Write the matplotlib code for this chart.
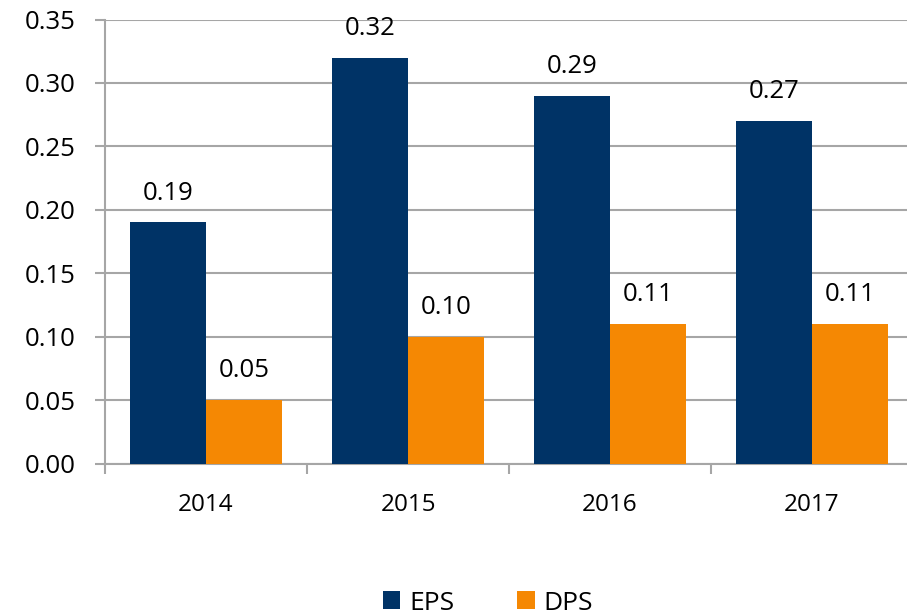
import matplotlib
matplotlib.use("Agg")
import matplotlib.pyplot as plt
import numpy as np

YEARS = ["2014", "2015", "2016", "2017"]
EPS = [0.19, 0.32, 0.29, 0.27]
DPS = [0.05, 0.10, 0.11, 0.11]
Y_TICKS = [0.00, 0.05, 0.10, 0.15, 0.20, 0.25, 0.30, 0.35]

NAVY = "#003366"
ORANGE = "#F58803"
GRID = "#A6A6A6"

plt.rcParams["font.family"] = ["Open Sans", "DejaVu Sans"]

fig = plt.figure(figsize=(9.07, 6.15), dpi=100)
ax = fig.add_axes([105 / 907, 1 - 463.5 / 615, 808 / 907, 444 / 615])

x = np.arange(len(YEARS))
w = 0.376
b1 = ax.bar(x - w / 2, EPS, w, color=NAVY, zorder=3, label="EPS")
b2 = ax.bar(x + w / 2, DPS, w, color=ORANGE, zorder=3, label="DPS")

for bars, vals in ((b1, EPS), (b2, DPS)):
    for r, v in zip(bars, vals):
        ax.annotate(f"{v:.2f}", (r.get_x() + r.get_width() / 2, v),
                    textcoords="offset points", xytext=(0, 21),
                    ha="center", va="center", fontsize=18.5)

ax.set_xlim(-0.5, 3.5)
ax.set_ylim(0, 0.35)
ax.set_yticks(Y_TICKS)
ax.set_yticklabels([f"{t:.2f}" for t in Y_TICKS], fontsize=18.5)
ax.yaxis.grid(True, color=GRID, linewidth=1.5, zorder=0)
ax.tick_params(axis="y", length=7, width=1.5, color=GRID, pad=14)

ax.set_xticks([-0.5, 0.5, 1.5, 2.5, 3.5])
ax.set_xticklabels([])
ax.set_xticks(x, minor=True)
ax.set_xticklabels(YEARS, minor=True, fontsize=17.5)
ax.tick_params(axis="x", which="major", length=7, width=1.5, color=GRID)
ax.tick_params(axis="x", which="minor", length=0, pad=21)

for s in ("top", "right"):
    ax.spines[s].set_visible(False)
for s in ("left", "bottom"):
    ax.spines[s].set_color(GRID)
    ax.spines[s].set_linewidth(1.5)

fig.legend(loc="center", bbox_to_anchor=(488 / 907, 1 - 603 / 615),
           ncol=2, frameon=False, fontsize=19, handlelength=0.65,
           handleheight=0.65, columnspacing=2.4, handletextpad=0.35)

fig.savefig("out.png", dpi=100)
